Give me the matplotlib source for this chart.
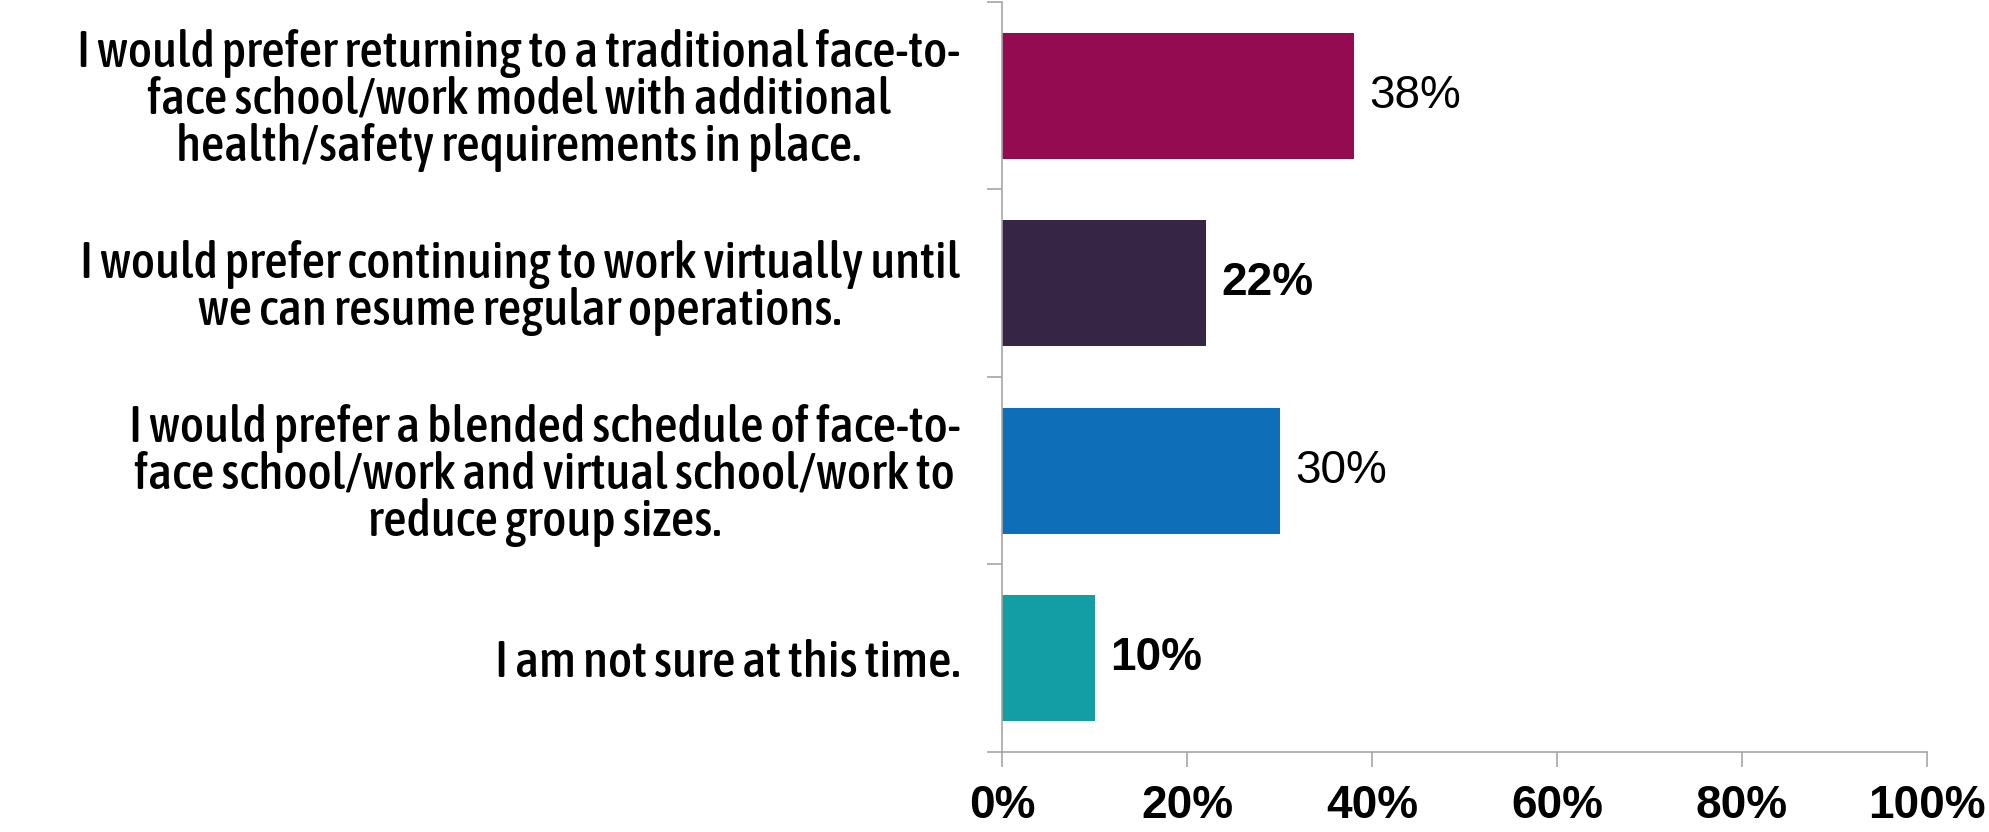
import matplotlib
matplotlib.use("Agg")
import matplotlib.pyplot as plt
import numpy as np

# survey answers, top to bottom
answers = [
    "I would prefer returning to a traditional face-to-\nface school/work model with additional\nhealth/safety requirements in place.",
    "I would prefer continuing to work virtually until\nwe can resume regular operations.",
    "I would prefer a blended schedule of face-to-\nface school/work and virtual school/work to\nreduce group sizes.",
    "I am not sure at this time.",
]
shares = [0.38, 0.22, 0.30, 0.10]
bar_colors = ["#950B51", "#372546", "#0E6FB8", "#139EA5"]
x_ticks = [0, 0.2, 0.4, 0.6, 0.8, 1.0]
x_tick_labels = ["0%", "20%", "40%", "60%", "80%", "100%"]

grey = "#A6A6A6"

fig = plt.figure(figsize=(19.89, 8.32), dpi=100)
ax = fig.add_axes([0.5038, 0.0962, 0.4650, 0.9014])

y = np.arange(len(answers))
ax.barh(y, shares, height=0.672, color=bar_colors, zorder=2)

# value labels at the end of each bar
for yi, v, wt in zip(y, shares, ["normal", "bold", "normal", "bold"]):
    ax.text(v + 0.017, yi, f"{v:.0%}", va="center", ha="left",
            fontsize=33, fontweight=wt, family="Liberation Sans")

ax.set_xlim(0, 1)
ax.set_ylim(len(answers) - 0.5, -0.5)

ax.set_xticks(x_ticks)
ax.set_xticklabels(x_tick_labels, fontsize=33, fontweight="bold",
                   family="Liberation Sans")
ax.tick_params(axis="x", length=11, width=1.2, color=grey, pad=12)

ax.set_yticks(y)
ax.set_yticklabels(answers, fontsize=37, fontweight=500, fontstyle="normal",
                   family=["Asap Condensed", "Liberation Sans"],
                   multialignment="center", linespacing=0.95)
ax.tick_params(axis="y", which="major", length=0, pad=30)
ax.set_yticks(np.arange(len(answers) + 1) - 0.5, minor=True)
ax.tick_params(axis="y", which="minor", length=11, width=1.2, color=grey)

for side in ["top", "right"]:
    ax.spines[side].set_visible(False)
for side in ["left", "bottom"]:
    ax.spines[side].set_color(grey)
    ax.spines[side].set_linewidth(1.2)

fig.savefig("out.png", dpi=100, facecolor="white")
